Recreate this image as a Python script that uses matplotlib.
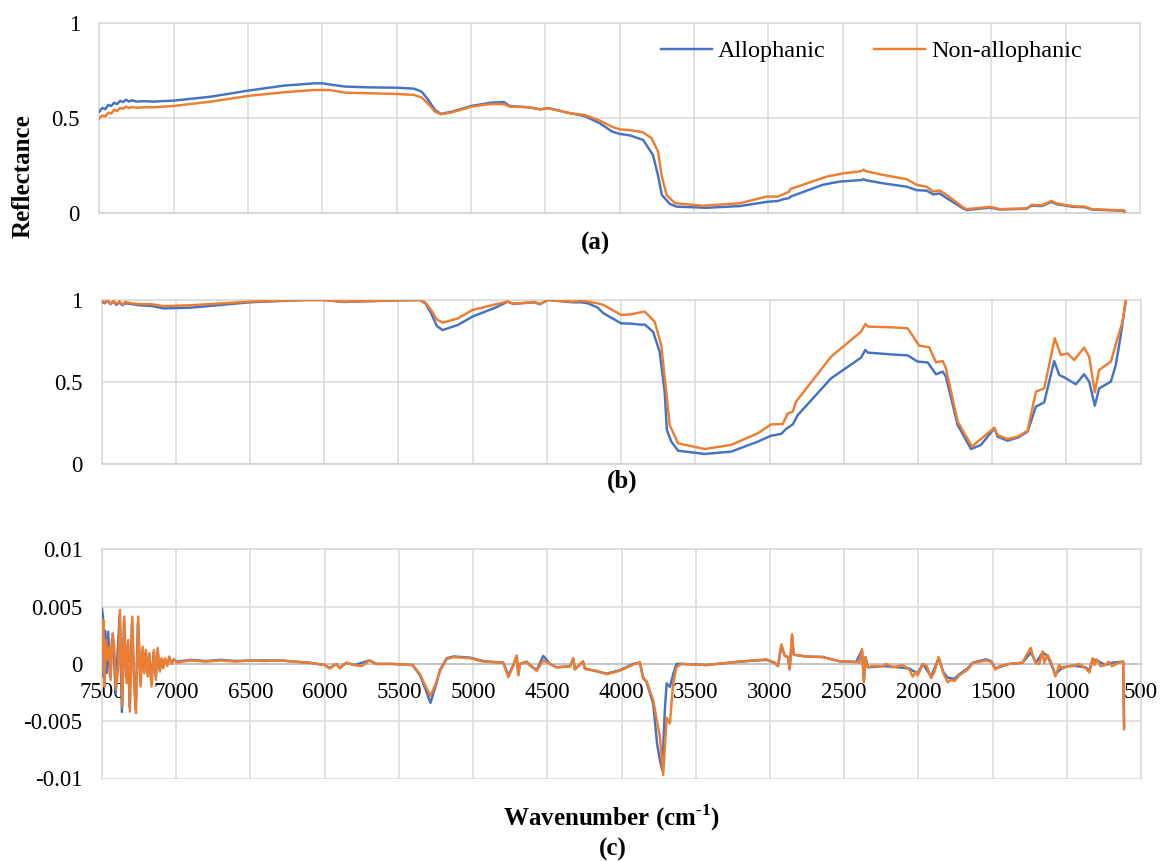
import matplotlib
matplotlib.use("Agg")
import matplotlib.pyplot as plt

plt.rcParams['font.family'] = ['Liberation Serif', 'DejaVu Serif']
plt.rcParams['mathtext.fontset'] = 'custom'
plt.rcParams['mathtext.rm'] = 'Liberation Serif:bold'
plt.rcParams['mathtext.bf'] = 'Liberation Serif:bold'

# ---- data ----
x_ticks = [7500, 7000, 6500, 6000, 5500, 5000, 4500, 4000, 3500, 3000, 2500, 2000, 1500, 1000, 500]
x_tick_labels = ['7500', '7000', '6500', '6000', '5500', '5000', '4500', '4000', '3500',
                 '3000', '2500', '2000', '1500', '1000', '500']
refl_ticks = [0, 0.5, 1]
refl_tick_labels = ['0', '0.5', '1']
deriv_ticks = [0.01, 0.005, 0, -0.005, -0.01]
deriv_tick_labels = ['0.01', '0.005', '0', '-0.005', '-0.01']
series_names = ['Allophanic', 'Non-allophanic']

# (a) reflectance
a_allo_w = [7500, 7480, 7460, 7440, 7420, 7400, 7380, 7360, 7340, 7320, 7300, 7280, 7250, 7200,
            7134, 7000, 6748, 6496, 6259, 6053, 6000, 5924, 5847, 5692, 5499, 5383, 5332, 5300,
            5280, 5242, 5203, 5126, 4997, 4868, 4778, 4760, 4740, 4611, 4534, 4482, 4328, 4237,
            4134, 4050, 4000, 3931, 3842, 3776, 3742, 3716, 3662, 3617, 3415, 3191, 3012, 2935,
            2901, 2860, 2850, 2634, 2520, 2373, 2360, 2345, 2229, 2070, 2003, 1935, 1892, 1847,
            1801, 1690, 1666, 1510, 1442, 1263, 1229, 1162, 1095, 1061, 949, 870, 826, 702, 606, 600]
a_allo_v = [0.535, 0.555, 0.548, 0.570, 0.565, 0.582, 0.575, 0.592, 0.585, 0.598, 0.588, 0.595,
            0.588, 0.590, 0.588, 0.593, 0.614, 0.646, 0.672, 0.684, 0.684, 0.675, 0.667, 0.663,
            0.661, 0.656, 0.640, 0.610, 0.588, 0.544, 0.523, 0.535, 0.565, 0.582, 0.586, 0.575,
            0.565, 0.558, 0.547, 0.554, 0.526, 0.512, 0.474, 0.430, 0.418, 0.410, 0.386, 0.307,
            0.200, 0.096, 0.049, 0.035, 0.029, 0.038, 0.060, 0.065, 0.074, 0.080, 0.088, 0.150,
            0.167, 0.175, 0.180, 0.174, 0.158, 0.140, 0.122, 0.119, 0.100, 0.104, 0.080, 0.026,
            0.017, 0.030, 0.020, 0.024, 0.040, 0.038, 0.060, 0.048, 0.034, 0.032, 0.020, 0.016,
            0.013, 0.0]
a_non_w = [7500, 7480, 7460, 7440, 7420, 7400, 7380, 7360, 7340, 7320, 7300, 7280, 7250, 7200,
           7134, 6998, 6748, 6496, 6259, 6053, 5950, 5847, 5692, 5499, 5383, 5332, 5280, 5242,
           5203, 5126, 4997, 4868, 4778, 4740, 4611, 4534, 4482, 4328, 4237, 4134, 4050, 4000,
           3931, 3842, 3785, 3741, 3718, 3684, 3628, 3440, 3191, 3012, 2935, 2900, 2860, 2850,
           2608, 2497, 2373, 2360, 2345, 2229, 2070, 2003, 1935, 1892, 1847, 1801, 1690, 1666,
           1510, 1442, 1263, 1229, 1162, 1095, 1061, 949, 870, 826, 702, 606, 600]
a_non_v = [0.500, 0.515, 0.510, 0.530, 0.525, 0.545, 0.538, 0.555, 0.550, 0.562, 0.553, 0.560,
           0.555, 0.558, 0.558, 0.565, 0.588, 0.618, 0.637, 0.649, 0.649, 0.635, 0.632, 0.628,
           0.623, 0.610, 0.570, 0.535, 0.521, 0.532, 0.561, 0.575, 0.575, 0.561, 0.558, 0.547,
           0.553, 0.526, 0.518, 0.488, 0.455, 0.442, 0.438, 0.426, 0.395, 0.324, 0.200, 0.096,
           0.053, 0.040, 0.053, 0.088, 0.088, 0.100, 0.114, 0.128, 0.193, 0.210, 0.222, 0.230,
           0.222, 0.202, 0.180, 0.150, 0.140, 0.115, 0.120, 0.097, 0.032, 0.022, 0.034, 0.022,
           0.026, 0.044, 0.042, 0.065, 0.052, 0.037, 0.035, 0.022, 0.018, 0.015, 0.0]

# (b) normalised reflectance
b_allo_w = [7500, 7480, 7460, 7440, 7420, 7400, 7380, 7360, 7340, 7300, 7250, 7160, 7083, 6903,
            6501, 6130, 6001, 5873, 5718, 5504, 5358, 5319, 5280, 5242, 5203, 5100, 5002, 4843,
            4765, 4727, 4585, 4547, 4495, 4328, 4268, 4225, 4160, 4119, 4000, 3931, 3870, 3840,
            3785, 3741, 3707, 3692, 3662, 3617, 3438, 3259, 3079, 2990, 2922, 2889, 2844, 2810,
            2586, 2384, 2355, 2339, 2182, 2070, 2003, 1935, 1879, 1834, 1812, 1733, 1643, 1576,
            1486, 1464, 1397, 1329, 1262, 1206, 1150, 1083, 1049, 1015, 937, 881, 847, 809, 780,
            701, 668, 634, 600]
b_allo_v = [0.990, 0.980, 0.995, 0.975, 0.990, 0.970, 0.985, 0.968, 0.980, 0.975, 0.968, 0.963,
            0.949, 0.953, 0.986, 1.000, 1.000, 0.988, 0.992, 0.998, 1.000, 0.980, 0.919, 0.842,
            0.817, 0.848, 0.899, 0.955, 0.990, 0.976, 0.986, 0.974, 1.000, 0.986, 0.986, 0.980,
            0.955, 0.919, 0.858, 0.856, 0.850, 0.850, 0.807, 0.686, 0.442, 0.209, 0.138, 0.083,
            0.063, 0.077, 0.138, 0.174, 0.185, 0.215, 0.243, 0.300, 0.523, 0.649, 0.696, 0.680,
            0.669, 0.663, 0.625, 0.620, 0.548, 0.564, 0.533, 0.239, 0.093, 0.118, 0.219, 0.168,
            0.144, 0.162, 0.199, 0.351, 0.377, 0.629, 0.544, 0.529, 0.487, 0.548, 0.503, 0.357,
            0.462, 0.503, 0.604, 0.787, 1.000]
b_non_w = [7500, 7480, 7460, 7440, 7420, 7400, 7380, 7360, 7340, 7300, 7250, 7160, 7083, 6903,
           6501, 6130, 6001, 5873, 5718, 5504, 5358, 5319, 5280, 5242, 5203, 5100, 5002, 4843,
           4765, 4727, 4585, 4547, 4495, 4328, 4268, 4225, 4160, 4119, 4000, 3931, 3870, 3841,
           3774, 3730, 3696, 3673, 3617, 3438, 3259, 3079, 2990, 2911, 2878, 2844, 2822, 2586,
           2384, 2355, 2339, 2182, 2070, 1992, 1924, 1879, 1834, 1812, 1733, 1637, 1576, 1486,
           1464, 1397, 1329, 1262, 1206, 1150, 1079, 1038, 993, 948, 881, 847, 809, 780, 701,
           656, 623, 600]
b_non_v = [0.996, 0.985, 1.000, 0.978, 0.995, 0.975, 0.992, 0.972, 0.988, 0.980, 0.975, 0.974,
           0.963, 0.968, 0.990, 1.000, 1.000, 0.990, 0.993, 0.998, 1.000, 0.985, 0.939, 0.882,
           0.862, 0.888, 0.939, 0.974, 0.990, 0.978, 0.988, 0.976, 1.000, 0.990, 0.996, 0.990,
           0.980, 0.970, 0.909, 0.913, 0.925, 0.929, 0.868, 0.726, 0.442, 0.239, 0.128, 0.093,
           0.118, 0.189, 0.243, 0.245, 0.310, 0.320, 0.381, 0.655, 0.807, 0.854, 0.838, 0.834,
           0.828, 0.722, 0.712, 0.620, 0.629, 0.584, 0.260, 0.108, 0.154, 0.223, 0.178, 0.154,
           0.168, 0.205, 0.442, 0.462, 0.767, 0.665, 0.675, 0.635, 0.710, 0.655, 0.438, 0.574,
           0.625, 0.767, 0.868, 1.000]

# (c) derivative
c_non_w = [7500, 7491, 7484, 7473, 7462, 7451, 7442, 7428, 7417, 7406, 7390, 7379, 7363, 7350,
           7334, 7323, 7312, 7296, 7283, 7271, 7256, 7240, 7226, 7215, 7204, 7192, 7181, 7166,
           7150, 7137, 7125, 7110, 7098, 7087, 7076, 7060, 7047, 7031, 7015, 6997, 6900, 6800,
           6700, 6600, 6500, 6400, 6300, 6200, 6100, 6000, 5966, 5921, 5899, 5854, 5800, 5750,
           5697, 5652, 5550, 5408, 5357, 5318, 5287, 5254, 5222, 5177, 5132, 5020, 4931, 4796,
           4762, 4729, 4706, 4695, 4684, 4639, 4616, 4571, 4527, 4482, 4437, 4347, 4325, 4314,
           4259, 4247, 4168, 4100, 4011, 3921, 3876, 3865, 3854, 3831, 3786, 3741, 3719, 3696,
           3674, 3652, 3630, 3600, 3428, 3204, 3024, 2968, 2946, 2923, 2900, 2878, 2867, 2851,
           2840, 2755, 2643, 2531, 2419, 2397, 2380, 2367, 2356, 2341, 2307, 2240, 2217, 2172,
           2105, 2060, 2038, 2015, 2004, 1970, 1943, 1914, 1892, 1863, 1832, 1803, 1780, 1757,
           1724, 1668, 1634, 1545, 1511, 1481, 1455, 1388, 1298, 1271, 1242, 1231, 1208, 1186,
           1163, 1152, 1130, 1107, 1077, 1051, 1028, 995, 961, 916, 872, 848, 826, 813, 797,
           774, 741, 718, 696, 651, 620, 614]
c_non_v = [0.00100, 0.00384, -0.00198, 0.00209, 0.00035, 0.00151, -0.00140, 0.00267, 0.00151,
           -0.00227, -0.00023, 0.00471, -0.00372, 0.00413, -0.00169, 0.00209, -0.00416, 0.00413,
           -0.00169, -0.00430, 0.00413, -0.00198, 0.00151, -0.00081, 0.00122, -0.00110, 0.00093,
           -0.00198, 0.00122, -0.00140, 0.00140, -0.00067, 0.00049, -0.00038, 0.00049, -0.00017,
           0.00064, 0.00000, 0.00041, 0.00012, 0.00030, 0.00020, 0.00030, 0.00020, 0.00030,
           0.00025, 0.00030, 0.00020, 0.00010, -0.00010, -0.00040, 0.00000, -0.00040, 0.00010,
           -0.00010, -0.00020, 0.00030, 0.00000, 0.00000, -0.00010, -0.00090, -0.00200, -0.00280,
           -0.00180, -0.00060, 0.00044, 0.00058, 0.00050, 0.00020, 0.00010, -0.00116, -0.00015,
           0.00073, -0.00100, 0.00000, 0.00015, -0.00015, -0.00060, 0.00030, 0.00000, -0.00030,
           -0.00023, 0.00050, -0.00050, 0.00023, -0.00044, -0.00060, -0.00090, -0.00060, -0.00006,
           0.00015, -0.00060, -0.00130, -0.00150, -0.00320, -0.00640, -0.00970, -0.00470, -0.00520,
           -0.00170, -0.00030, 0.00000, -0.00010, 0.00020, 0.00040, 0.00010, -0.00020, 0.00170,
           0.00070, 0.00060, -0.00050, 0.00260, 0.00080, 0.00064, 0.00060, 0.00023, 0.00017,
           0.00010, 0.00130, -0.00160, 0.00060, -0.00030, -0.00017, -0.00020, 0.00000, -0.00030,
           -0.00010, -0.00050, -0.00110, -0.00070, -0.00100, 0.00000, -0.00020, -0.00125, -0.00070,
           0.00060, -0.00080, -0.00160, -0.00140, -0.00150, -0.00100, -0.00050, 0.00006, 0.00030,
           0.00020, -0.00050, -0.00020, 0.00000, 0.00010, 0.00080, 0.00140, 0.00080, 0.00006,
           0.00000, 0.00110, 0.00010, 0.00080, 0.00020, -0.00110, -0.00010, -0.00040, -0.00020,
           -0.00020, 0.00000, -0.00040, -0.00075, 0.00050, -0.00010, 0.00040, -0.00020, -0.00010,
           0.00020, -0.00020, 0.00010, 0.00020, -0.00570]
c_allo_w = [7500, 7494, 7488, 7478, 7468, 7458, 7446, 7432, 7420, 7408, 7394, 7381, 7366, 7352,
            7338, 7325, 7314, 7298, 7285, 7273, 7258, 7242, 7228, 7216, 7205, 7193, 7182, 7168,
            7152, 7138, 7126, 7112, 7100, 7088, 7076, 7060, 7047, 7031, 7015, 6997, 6900, 6800,
            6700, 6600, 6500, 6400, 6300, 6200, 6100, 6000, 5966, 5921, 5899, 5854, 5800, 5697,
            5652, 5550, 5408, 5357, 5318, 5287, 5254, 5222, 5177, 5132, 5020, 4931, 4796, 4762,
            4729, 4706, 4695, 4684, 4639, 4616, 4571, 4527, 4482, 4437, 4347, 4325, 4314, 4259,
            4247, 4168, 4100, 4011, 3921, 3876, 3854, 3831, 3786, 3760, 3741, 3725, 3708, 3696,
            3674, 3652, 3630, 3600, 3428, 3204, 3024, 2968, 2946, 2923, 2900, 2878, 2867, 2851,
            2840, 2755, 2643, 2531, 2419, 2380, 2367, 2356, 2341, 2240, 2172, 2060, 2038, 2004,
            1970, 1914, 1863, 1832, 1803, 1757, 1724, 1668, 1634, 1545, 1511, 1481, 1388, 1298,
            1242, 1208, 1163, 1130, 1077, 1028, 961, 872, 848, 826, 797, 741, 696, 620, 614]
c_allo_v = [0.00480, 0.00420, -0.00120, 0.00290, -0.00080, 0.00280, -0.00110, 0.00220, 0.00080,
            -0.00260, 0.00120, 0.00430, -0.00420, 0.00380, -0.00120, 0.00180, -0.00380, 0.00360,
            -0.00100, -0.00400, 0.00360, -0.00150, 0.00120, -0.00060, 0.00100, -0.00080, 0.00080,
            -0.00160, 0.00100, -0.00110, 0.00110, -0.00050, 0.00040, -0.00030, 0.00040, -0.00010,
            0.00050, 0.00010, 0.00040, 0.00020, 0.00035, 0.00025, 0.00035, 0.00025, 0.00030,
            0.00030, 0.00030, 0.00020, 0.00010, -0.00010, -0.00035, 0.00000, -0.00035, 0.00010,
            -0.00010, 0.00030, 0.00000, 0.00000, -0.00010, -0.00100, -0.00230, -0.00340, -0.00200,
            -0.00050, 0.00050, 0.00065, 0.00055, 0.00025, 0.00010, -0.00100, -0.00010, 0.00070,
            -0.00090, 0.00000, 0.00020, -0.00010, -0.00055, 0.00070, 0.00000, -0.00030, -0.00020,
            0.00045, -0.00045, 0.00020, -0.00040, -0.00065, -0.00085, -0.00055, 0.00000, 0.00010,
            -0.00120, -0.00160, -0.00350, -0.00700, -0.00840, -0.00930, -0.00400, -0.00170,
            -0.00200, -0.00090, 0.00000, 0.00000, -0.00010, 0.00020, 0.00035, 0.00010, -0.00020,
            0.00160, 0.00070, 0.00060, -0.00040, 0.00250, 0.00080, 0.00064, 0.00060, 0.00023,
            0.00017, 0.00120, -0.00150, 0.00060, -0.00030, -0.00020, -0.00025, -0.00040, -0.00060,
            -0.00080, 0.00000, -0.00110, 0.00050, -0.00070, -0.00120, -0.00130, -0.00090, -0.00040,
            0.00010, 0.00040, 0.00025, -0.00040, 0.00000, 0.00010, 0.00100, 0.00010, 0.00100,
            0.00070, -0.00090, -0.00030, -0.00015, -0.00030, -0.00060, 0.00040, 0.00030, -0.00010,
            0.00010, 0.00020, -0.00550]

# ---- drawing ----
blue = '#4472C4'
orange = '#ED7D31'
grid_col = '#d9d9d9'
W, H = 1162, 861
lw = 1.75


def px_box(left, top, right, bottom):
    return [left / W, 1 - bottom / H, (right - left) / W, (bottom - top) / H]


fig = plt.figure(figsize=(W / 100, H / 100), dpi=100)
ax_a = fig.add_axes(px_box(99.3, 23.3, 1140, 213.3))
ax_b = fig.add_axes(px_box(101.6, 300, 1140.7, 464.3))
ax_c = fig.add_axes(px_box(102, 549.3, 1141, 778.5))

for ax in (ax_a, ax_b, ax_c):
    ax.set_xlim(7500, 500)
    ax.set_xticks(x_ticks)
    ax.set_xticklabels(x_tick_labels)
    ax.grid(True, color=grid_col, lw=1.1)
    ax.set_axisbelow(True)
    ax.tick_params(length=0, labelsize=16.5, pad=14)
    for sp in ax.spines.values():
        sp.set_color(grid_col)
        sp.set_linewidth(1.1)
        sp.set_zorder(1)

for ax in (ax_a, ax_b):
    ax.set_ylim(0, 1)
    ax.set_yticks(refl_ticks)
    ax.set_yticklabels(refl_tick_labels)
    ax.tick_params(axis='x', labelbottom=False)
    ax.spines['bottom'].set_color('#cfcfcf')

ax_a.plot(a_allo_w, a_allo_v, color=blue, lw=lw, label=series_names[0])
ax_a.plot(a_non_w, a_non_v, color=orange, lw=lw, label=series_names[1])
ax_b.plot(b_allo_w, b_allo_v, color=blue, lw=lw)
ax_b.plot(b_non_w, b_non_v, color=orange, lw=lw)

ax_c.set_ylim(-0.01, 0.01)
ax_c.set_yticks(deriv_ticks)
ax_c.set_yticklabels(deriv_tick_labels)
ax_c.spines['bottom'].set_position(('data', 0))
ax_c.spines['bottom'].set_color('#bfbfbf')
ax_c.tick_params(axis='x', pad=13)
ax_c.plot(c_allo_w, c_allo_v, color=blue, lw=lw)
ax_c.plot(c_non_w, c_non_v, color=orange, lw=lw)

ax_a.legend(loc='center', bbox_to_anchor=(871.5 / W, 1 - 51 / H), bbox_transform=fig.transFigure,
            ncol=2, frameon=False, fontsize=17.5, handlelength=2.1, handletextpad=0.25,
            columnspacing=2.0, borderpad=0, borderaxespad=0)

fig.text(23 / W, 1 - 176 / H, 'Reflectance', rotation=90, fontsize=18, fontweight='bold',
         ha='center', va='center')
fig.text(596 / W, 1 - 243 / H, '(a)', fontsize=18, fontweight='bold', ha='center', va='center')
fig.text(622 / W, 1 - 481 / H, '(b)', fontsize=18, fontweight='bold', ha='center', va='center')
fig.text(612 / W, 1 - 818 / H, r'Wavenumber (cm$^{\text{-1}}$)', fontsize=18,
         fontweight='bold', ha='center', va='center')
fig.text(613 / W, 1 - 849 / H, '(c)', fontsize=18, fontweight='bold', ha='center', va='center')

fig.savefig('out.png', dpi=100)
